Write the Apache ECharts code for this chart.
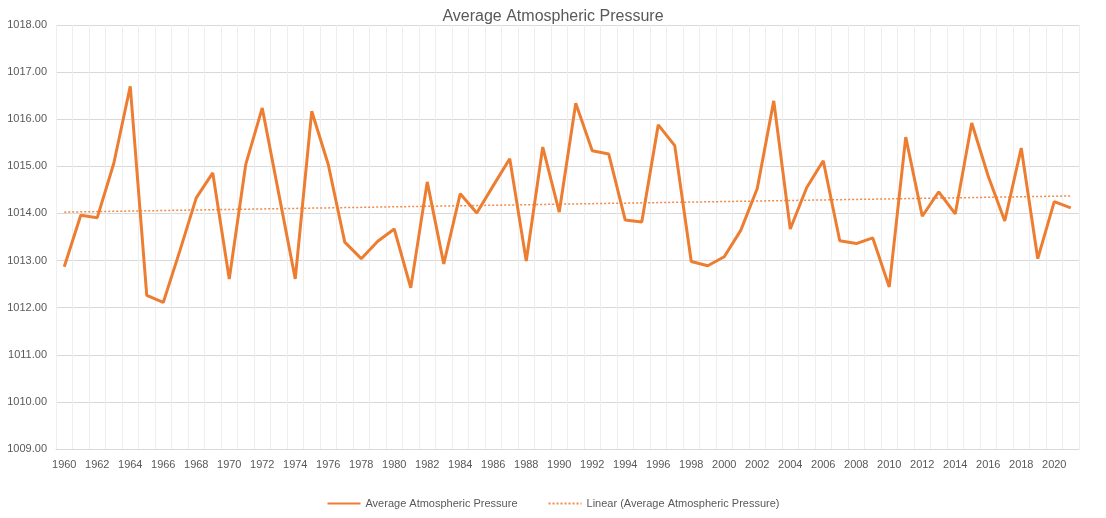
<!DOCTYPE html>
<html>
<head>
<meta charset="utf-8">
<title>Average Atmospheric Pressure</title>
<script src="https://cdn.jsdelivr.net/npm/echarts@6/dist/echarts.min.js"></script>
<style>
  html, body { margin: 0; padding: 0; background: #fff; }
  #main { width: 1106px; height: 518px; }
</style>
</head>
<body>
<div id="main"></div>
<script>
// 年份 1960 - 2021
var years = []
for (var y = 1960; y <= 2021; y++) {
  years.push(String(y))
}

// 年平均气压 (hPa)
var pressure = [
  1012.87, 1013.96, 1013.91, 1015.06, 1016.70, 1012.26, 1012.11, 1013.20, 1014.33, 1014.86,
  1012.61, 1015.04, 1016.24, 1014.42, 1012.61, 1016.17, 1015.04, 1013.39, 1013.04, 1013.41,
  1013.67, 1012.42, 1014.67, 1012.93, 1014.42, 1014.01, 1014.59, 1015.16, 1012.99, 1015.41,
  1014.03, 1016.34, 1015.33, 1015.26, 1013.86, 1013.82, 1015.88, 1015.44, 1012.98, 1012.89,
  1013.08, 1013.64, 1014.53, 1016.39, 1013.67, 1014.55, 1015.12, 1013.42, 1013.36, 1013.48,
  1012.44, 1015.62, 1013.94, 1014.46, 1013.99, 1015.92, 1014.79, 1013.84, 1015.39, 1013.04,
  1014.25, 1014.12
]

// 线性趋势（最小二乘）
function linearTrend(vals) {
  var n = vals.length, sx = 0, sy = 0, sxy = 0, sxx = 0
  for (var i = 0; i < n; i++) {
    sx += i; sy += vals[i]; sxy += i * vals[i]; sxx += i * i
  }
  var b = (n * sxy - sx * sy) / (n * sxx - sx * sx)
  var a = (sy - b * sx) / n
  return vals.map(function (v, i) { return +(a + b * i).toFixed(3) })
}
var trend = linearTrend(pressure)

var textColor = '#595959'
var fontName = 'Liberation Sans'

var myChart = echarts.init(document.getElementById('main'))

var option = {
  animation: false,
  title: {
    text: 'Average Atmospheric Pressure',
    left: 'center',
    top: 4,
    textStyle: {
      fontFamily: fontName,
      fontSize: 16,
      fontWeight: 'normal',
      color: textColor
    }
  },
  legend: {
    bottom: 4,
    left: 'center',
    itemWidth: 33,
    itemHeight: 10,
    itemGap: 30,
    itemStyle: { opacity: 0 },
    textStyle: { fontFamily: fontName, fontSize: 11, color: textColor },
    data: ['Average Atmospheric Pressure', 'Linear (Average Atmospheric Pressure)']
  },
  grid: {
    left: 56,
    right: 27,
    top: 25,
    bottom: 69
  },
  xAxis: {
    type: 'category',
    data: years,
    boundaryGap: true,
    axisLine: { lineStyle: { color: '#d9d9d9', width: 1 } },
    axisTick: { show: false },
    axisLabel: {
      interval: 1,
      color: textColor,
      fontFamily: fontName,
      fontSize: 11,
      margin: 10
    },
    splitLine: {
      show: true,
      interval: 0,
      lineStyle: { color: '#eeeeee', width: 1 }
    }
  },
  yAxis: {
    type: 'value',
    min: 1009,
    max: 1018,
    interval: 1,
    axisLine: { show: false },
    axisTick: { show: false },
    axisLabel: {
      color: textColor,
      fontFamily: fontName,
      fontSize: 11,
      margin: 9,
      formatter: function (v) { return v.toFixed(2) }
    },
    splitLine: { lineStyle: { color: '#d9d9d9', width: 1 } }
  },
  series: [{
      name: 'Average Atmospheric Pressure',
      type: 'line',
      data: pressure,
      symbol: 'none',
      lineStyle: { color: '#ed7d31', width: 3 },
      itemStyle: { color: '#ed7d31' },
      z: 3
    },
    {
      name: 'Linear (Average Atmospheric Pressure)',
      type: 'line',
      data: trend,
      symbol: 'none',
      lineStyle: { color: '#f08a46', width: 1.5, type: [2, 2] },
      itemStyle: { color: '#f08a46' },
      z: 2
    }
  ]
}

myChart.setOption(option)
</script>
</body>
</html>
